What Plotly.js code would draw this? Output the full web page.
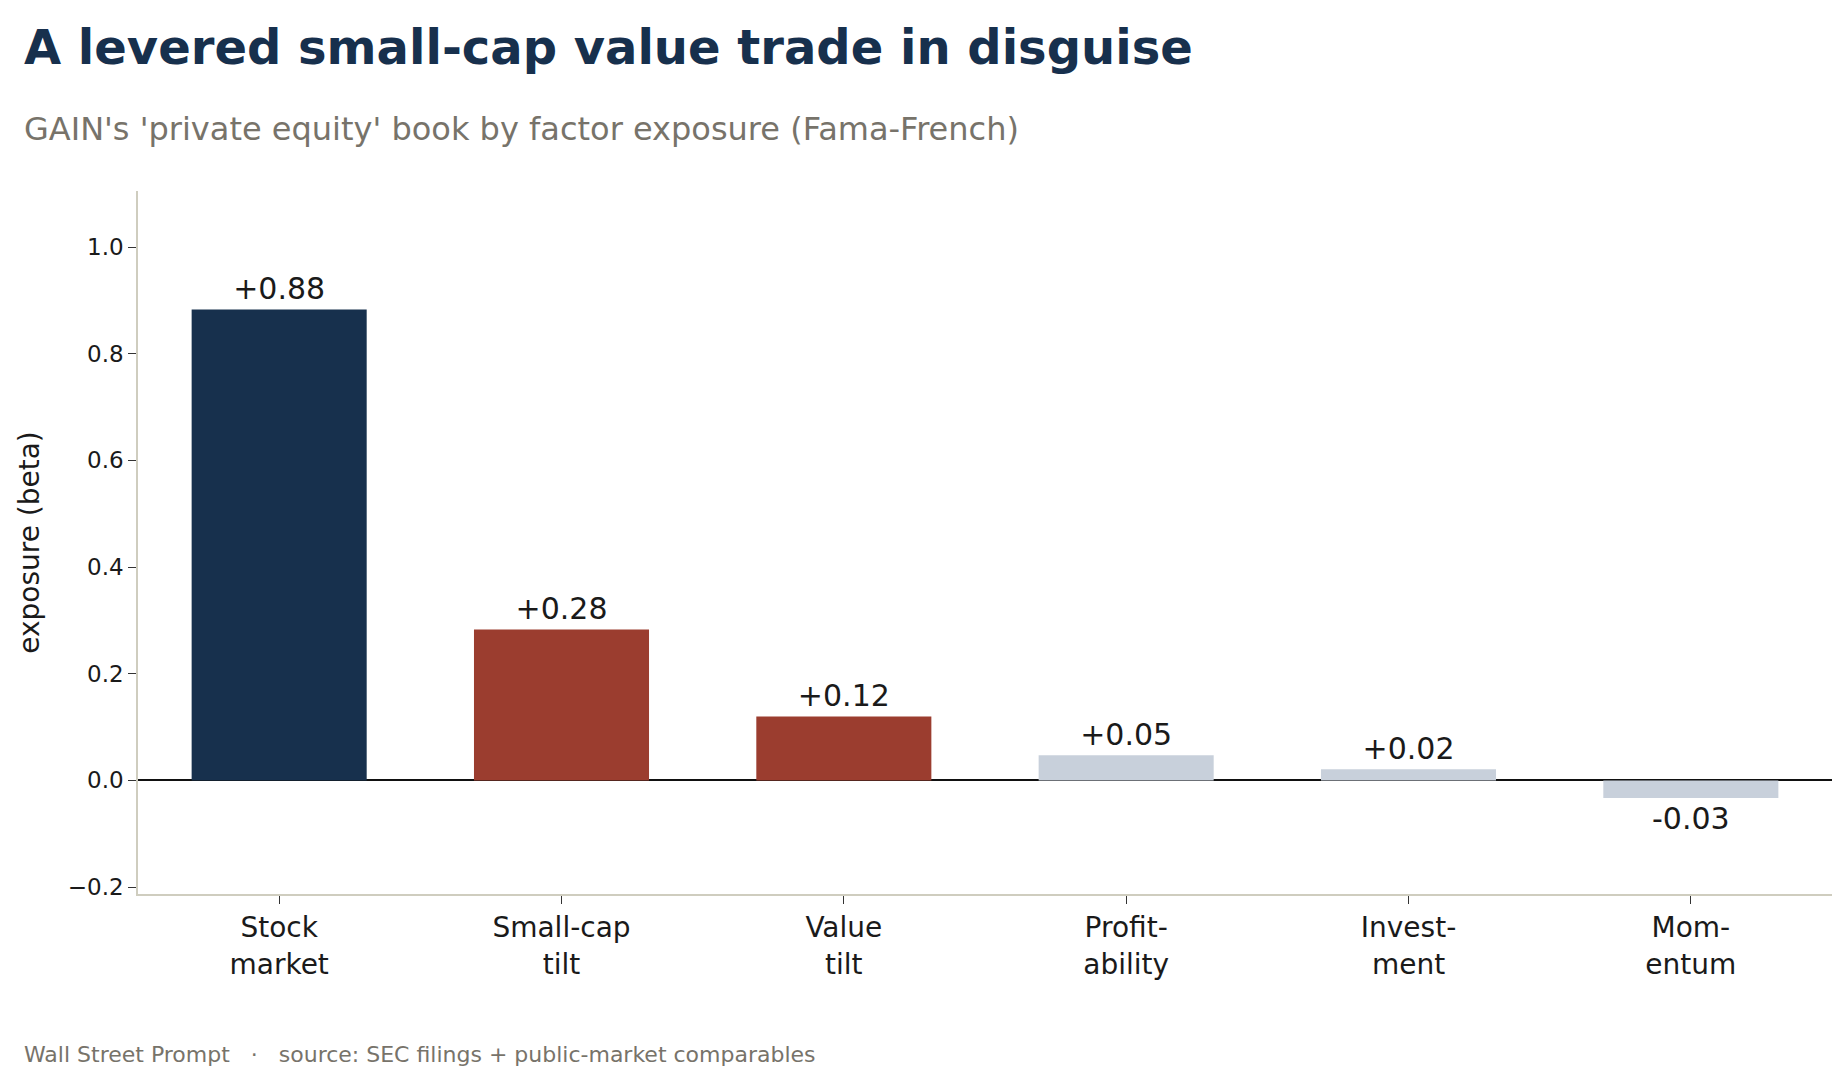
<!DOCTYPE html>
<html>
<head>
<meta charset="utf-8">
<script src="https://cdn.plot.ly/plotly-3.0.1.min.js"></script>
<style>html,body{margin:0;padding:0;background:#fff}#chart{width:1839px;height:1080px}</style>
</head>
<body>
<div id="chart"></div>
<script>
// factor exposures
const categories = ['Stock<br>market', 'Small-cap<br>tilt', 'Value<br>tilt', 'Profit-<br>ability', 'Invest-<br>ment', 'Mom-<br>entum'];
const betas = [0.883, 0.283, 0.12, 0.047, 0.021, -0.033];
const barLabels = ['+0.88', '+0.28', '+0.12', '+0.05', '+0.02', '-0.03'];
const barColors = ['#17304d', '#9b3d2f', '#9b3d2f', '#c8d0db', '#c8d0db', '#c8d0db'];

const font = 'DejaVu Sans, sans-serif';

Plotly.newPlot('chart', [{
  type: 'bar',
  x: categories,
  y: betas,
  text: barLabels,
  textposition: 'outside',
  textfont: {family: font, size: 30, color: '#1a1a1a'},
  cliponaxis: false,
  width: 0.62,
  marker: {color: barColors},
  hoverinfo: 'skip'
}], {
  width: 1839, height: 1080,
  margin: {l: 138, r: 7, t: 191, b: 186},
  paper_bgcolor: '#fff', plot_bgcolor: '#fff',
  showlegend: false,
  font: {family: font, color: '#1a1a1a'},
  xaxis: {
    showline: true, linecolor: '#cfcdbf', linewidth: 1.5,
    ticks: 'outside', ticklen: 8, tickcolor: '#333',
    tickfont: {size: 28, color: '#1a1a1a'}
  },
  yaxis: {
    range: [-0.213, 1.105],
    tickvals: [-0.2, 0, 0.2, 0.4, 0.6, 0.8, 1.0],
    tickformat: '.1f',
    showgrid: false, zeroline: true, zerolinecolor: '#111', zerolinewidth: 2,
    showline: true, linecolor: '#cfcdbf', linewidth: 1.5,
    ticks: 'outside', ticklen: 8, tickcolor: '#333',
    tickfont: {size: 23, color: '#1a1a1a'},
    title: {text: 'exposure (beta)', font: {size: 28, color: '#1a1a1a'}, standoff: 20}
  },
  annotations: [
    {text: '<b>A levered small-cap value trade in disguise</b>', xref: 'paper', yref: 'paper', x: 0, xanchor: 'left', xshift: -116, y: 1, yanchor: 'middle', yshift: 144, showarrow: false, font: {size: 48, color: '#17304d'}},
    {text: "GAIN's 'private equity' book by factor exposure (Fama-French)", xref: 'paper', yref: 'paper', x: 0, xanchor: 'left', xshift: -116, y: 1, yanchor: 'middle', yshift: 62, showarrow: false, font: {size: 32, color: '#77736a'}},
    {text: 'Wall Street Prompt   ·   source: SEC filings + public-market comparables', xref: 'paper', yref: 'paper', x: 0, xanchor: 'left', xshift: -116, y: 0, yanchor: 'middle', yshift: -160, showarrow: false, font: {size: 22, color: '#77736a'}}
  ]
}, {displayModeBar: false});
</script>
</body>
</html>
